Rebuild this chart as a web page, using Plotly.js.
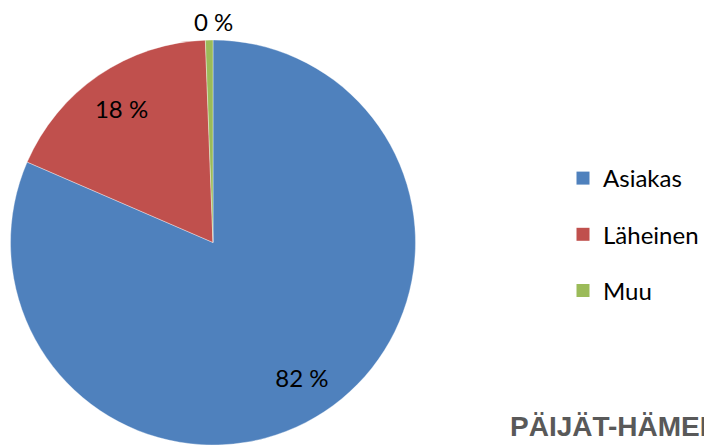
<!DOCTYPE html>
<html>
<head>
<meta charset="utf-8">
<script src="https://cdn.plot.ly/plotly-3.0.1.min.js"></script>
<style>html,body{margin:0;padding:0;background:#fff;} #chart{width:704px;height:445px;}</style>
</head>
<body>
<div id="chart"></div>
<script>
var categories = ["Asiakas", "Läheinen", "Muu"];
var shares = [81.5, 17.9, 0.6];
var shareLabels = ["82 %", "18 %", "0 %"];
var colors = ["#4F81BD", "#C0504D", "#9BBB59"];
var footerText = "PÄIJÄT-HÄMEEN";

var W = 704, H = 445;
var pieDomain = {x: [10 / W, 416 / W], y: [0, (H - 40) / H]};
var labelFont = {family: "Lato, sans-serif", size: 24, color: "#000"};

var traces = [{
  type: "pie",
  labels: categories,
  values: shares,
  textinfo: "none",
  sort: false,
  direction: "clockwise",
  rotation: 0,
  marker: {colors: colors, line: {color: "rgba(255,255,255,0.6)", width: 0.6}},
  domain: pieDomain,
  showlegend: false,
  hoverinfo: "label+percent"
}, {
  // transparent ring that carries the inside labels out toward the rim
  type: "pie",
  labels: categories,
  values: shares,
  text: shareLabels.map(function (t, i) { return shares[i] < 2 ? "" : t; }),
  textinfo: "text",
  textposition: "inside",
  insidetextorientation: "horizontal",
  hole: 0.6,
  sort: false,
  direction: "clockwise",
  rotation: 0,
  marker: {colors: ["rgba(0,0,0,0)", "rgba(0,0,0,0)", "rgba(0,0,0,0)"], line: {width: 0}},
  textfont: labelFont,
  insidetextfont: labelFont,
  domain: pieDomain,
  showlegend: false,
  hoverinfo: "skip"
}];
categories.forEach(function (c, i) {
  traces.push({
    type: "scatter", mode: "markers", x: [null], y: [null],
    name: c, legendgroup: c,
    marker: {symbol: "square", size: 13, color: colors[i]},
    showlegend: true, hoverinfo: "skip"
  });
});

// label of the tiny slice, set above the pie as in the reference
var smallIdx = shares.indexOf(Math.min.apply(null, shares));

var layout = {
  width: W, height: H,
  margin: {l: 0, r: 0, t: 0, b: 0},
  paper_bgcolor: "#fff", plot_bgcolor: "rgba(0,0,0,0)",
  xaxis: {visible: false, domain: [0.99, 1]},
  yaxis: {visible: false, domain: [0.99, 1]},
  showlegend: true,
  legend: {
    x: 563 / W, xanchor: "left",
    y: 1 - 156 / H, yanchor: "top",
    font: labelFont,
    traceorder: "grouped",
    tracegroupgap: 22,
    bgcolor: "rgba(0,0,0,0)",
    itemclick: false
  },
  annotations: [{
    text: shareLabels[smallIdx],
    xref: "paper", yref: "paper",
    x: (pieDomain.x[0] + pieDomain.x[1]) / 2, xanchor: "center",
    y: pieDomain.y[1], yanchor: "bottom",
    yshift: 2,
    showarrow: false,
    font: labelFont
  }, {
    text: "<b>" + footerText + "</b>",
    xref: "paper", yref: "paper",
    x: 508 / W, xanchor: "left",
    y: 1 / H, yanchor: "bottom",
    showarrow: false,
    font: {family: "Liberation Sans, Arial, sans-serif", size: 28, color: "#595959"}
  }]
};
Plotly.newPlot("chart", traces, layout, {displayModeBar: false, staticPlot: true});
</script>
</body>
</html>
